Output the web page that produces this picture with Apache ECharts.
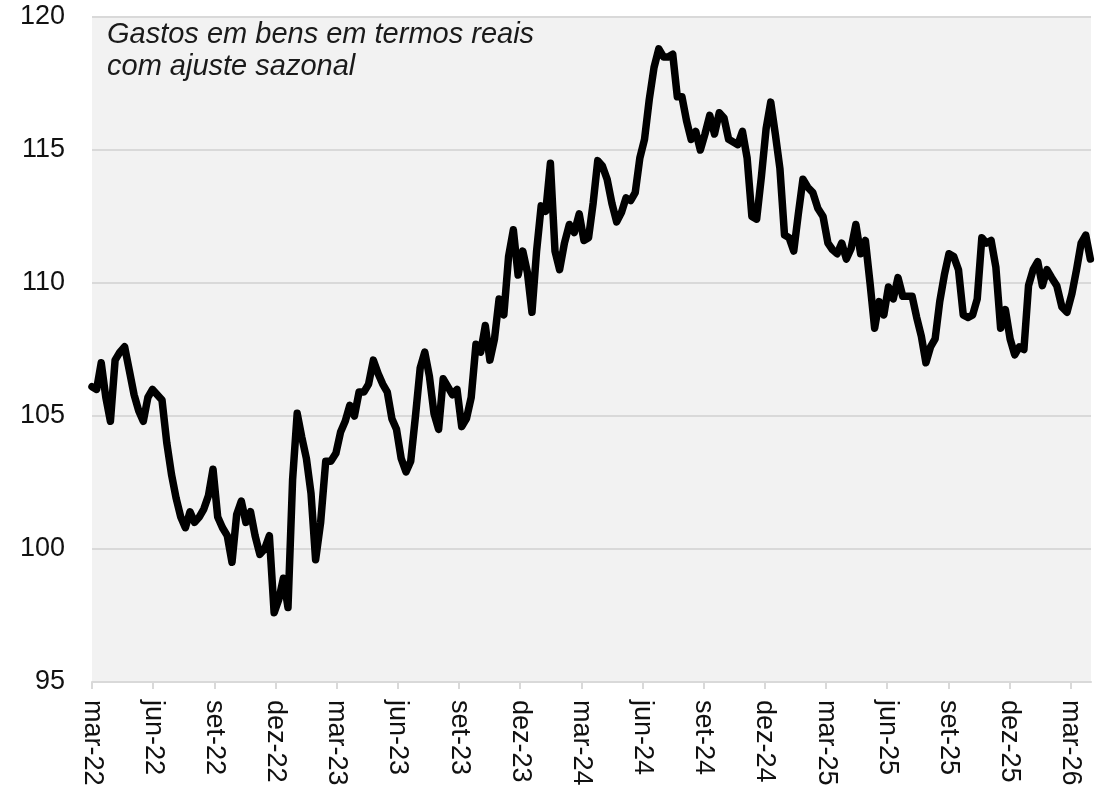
<!DOCTYPE html>
<html>
<head>
<meta charset="utf-8">
<title>Gastos em bens</title>
<script src="https://cdn.jsdelivr.net/npm/echarts@6/dist/echarts.min.js"></script>
<style>
  html, body { margin: 0; padding: 0; background: #fff; }
  #main { width: 1099px; height: 790px; }
</style>
</head>
<body>
<div id="main"></div>
<script>
// semanal, a partir de 1 de marco de 2022
var startDate = '2022-03-01';
var stepDays = 7;

var gastos = [
  106.1, 106.0, 107.0, 105.7, 104.8, 107.1, 107.4, 107.6, 106.7, 105.8,
  105.2, 104.8, 105.7, 106.0, 105.8, 105.6, 104.0, 102.8, 101.9, 101.2,
  100.8, 101.4, 101.0, 101.2, 101.5, 102.0, 103.0, 101.2, 100.8, 100.5,
  99.5, 101.3, 101.8, 101.0, 101.4, 100.5, 99.8, 100.0, 100.5, 97.6,
  98.1, 98.9, 97.8, 102.6, 105.1, 104.2, 103.4, 102.1, 99.6, 101.0,
  103.3, 103.3, 103.6, 104.4, 104.8, 105.4, 105.0, 105.9, 105.9, 106.2,
  107.1, 106.6, 106.2, 105.9, 104.9, 104.5, 103.4, 102.9, 103.3, 105.0,
  106.8, 107.4, 106.5, 105.1, 104.5, 106.4, 106.1, 105.8, 106.0, 104.6,
  104.9, 105.7, 107.7, 107.4, 108.4, 107.1, 107.9, 109.4, 108.8, 111.0,
  112.0, 110.3, 111.2, 110.4, 108.9, 111.2, 112.9, 112.7, 114.5, 111.2,
  110.5, 111.5, 112.2, 111.9, 112.6, 111.6, 111.7, 113.0, 114.6, 114.4,
  113.9, 113.0, 112.3, 112.65, 113.2, 113.1, 113.4, 114.7, 115.4, 116.9,
  118.1, 118.8, 118.5, 118.5, 118.6, 117.0, 117.0, 116.1, 115.4, 115.7,
  115.0, 115.6, 116.3, 115.6, 116.4, 116.2, 115.4, 115.3, 115.2, 115.7,
  114.7, 112.5, 112.4, 114.0, 115.8, 116.8, 115.6, 114.3, 111.8, 111.7,
  111.2, 112.6, 113.9, 113.6, 113.4, 112.8, 112.5, 111.5, 111.25, 111.1,
  111.5, 110.9, 111.3, 112.2, 111.1, 111.6, 110.0, 108.3, 109.3, 108.8,
  109.85, 109.4, 110.2, 109.5, 109.5, 109.5, 108.7, 108.0, 107.0, 107.6,
  107.9, 109.3, 110.3, 111.1, 111.0, 110.5, 108.8, 108.7, 108.8, 109.4,
  111.7, 111.5, 111.6, 110.6, 108.3, 109.0, 107.9, 107.3, 107.6, 107.5,
  109.9, 110.5, 110.8, 109.9, 110.5, 110.2, 109.9, 109.1, 108.9, 109.6,
  110.5, 111.5, 111.8, 110.9
];

var tickLabels = ['mar-22', 'jun-22', 'set-22', 'dez-22', 'mar-23', 'jun-23', 'set-23', 'dez-23',
  'mar-24', 'jun-24', 'set-24', 'dez-24', 'mar-25', 'jun-25', 'set-25', 'dez-25', 'mar-26'];

var titleText = 'Gastos em bens em termos reais\ncom ajuste sazonal';

// datas -> indice de meses desde mar-22 (fracao do mes pelo dia)
function monthIndex(d) {
  var y = d.getUTCFullYear(), m = d.getUTCMonth();
  var dim = new Date(Date.UTC(y, m + 1, 0)).getUTCDate();
  return (y - 2022) * 12 + (m - 2) + (d.getUTCDate() - 1) / dim;
}

var t0 = new Date(startDate + 'T00:00:00Z');
var points = [];
for (var i = 0; i < gastos.length; i++) {
  var d = new Date(t0.getTime() + i * stepDays * 86400000);
  points.push([monthIndex(d), gastos[i]]);
}

var tickPos = [];
for (var k = 0; k < tickLabels.length; k++) tickPos.push(k * 3);

var myChart = echarts.init(document.getElementById('main'));

option = {
  backgroundColor: '#ffffff',
  animation: false,
  textStyle: { fontFamily: 'Liberation Sans' },
  title: {
    text: titleText,
    left: 107,
    top: 19,
    padding: 0,
    textStyle: {
      fontFamily: 'Liberation Sans',
      fontStyle: 'italic',
      fontWeight: 'normal',
      fontSize: 29,
      lineHeight: 32,
      color: '#1a1a1a'
    }
  },
  grid: {
    left: 92,
    right: 8,
    top: 17,
    bottom: 108,
    show: true,
    backgroundColor: '#f2f2f2',
    borderWidth: 0
  },
  xAxis: {
    type: 'value',
    min: 0,
    max: 49,
    interval: 3,
    axisLine: { show: true, lineStyle: { color: '#d9d9d9', width: 2 } },
    axisTick: {
      show: true,
      length: 7,
      customValues: tickPos,
      lineStyle: { color: '#d9d9d9', width: 2 }
    },
    splitLine: { show: false },
    axisLabel: {
      customValues: tickPos,
      rotate: -90,
      margin: 18,
      fontSize: 27,
      color: '#111',
      fontFamily: 'Liberation Sans',
      formatter: function (v) {
        var idx = Math.round(v / 3);
        return tickLabels[idx] || '';
      }
    }
  },
  yAxis: {
    type: 'value',
    min: 95,
    max: 120,
    interval: 5,
    axisLine: { show: false },
    axisTick: { show: false },
    splitLine: { show: true, lineStyle: { color: '#d9d9d9', width: 2 } },
    axisLabel: {
      fontSize: 27,
      margin: 27,
      color: '#111',
      fontFamily: 'Liberation Sans'
    }
  },
  series: [
    {
      name: 'Gastos em bens',
      type: 'line',
      symbol: 'none',
      smooth: false,
      data: points,
      lineStyle: { color: '#000', width: 7.5, cap: 'round', join: 'round' }
    }
  ]
};

myChart.setOption(option);
</script>
</body>
</html>
